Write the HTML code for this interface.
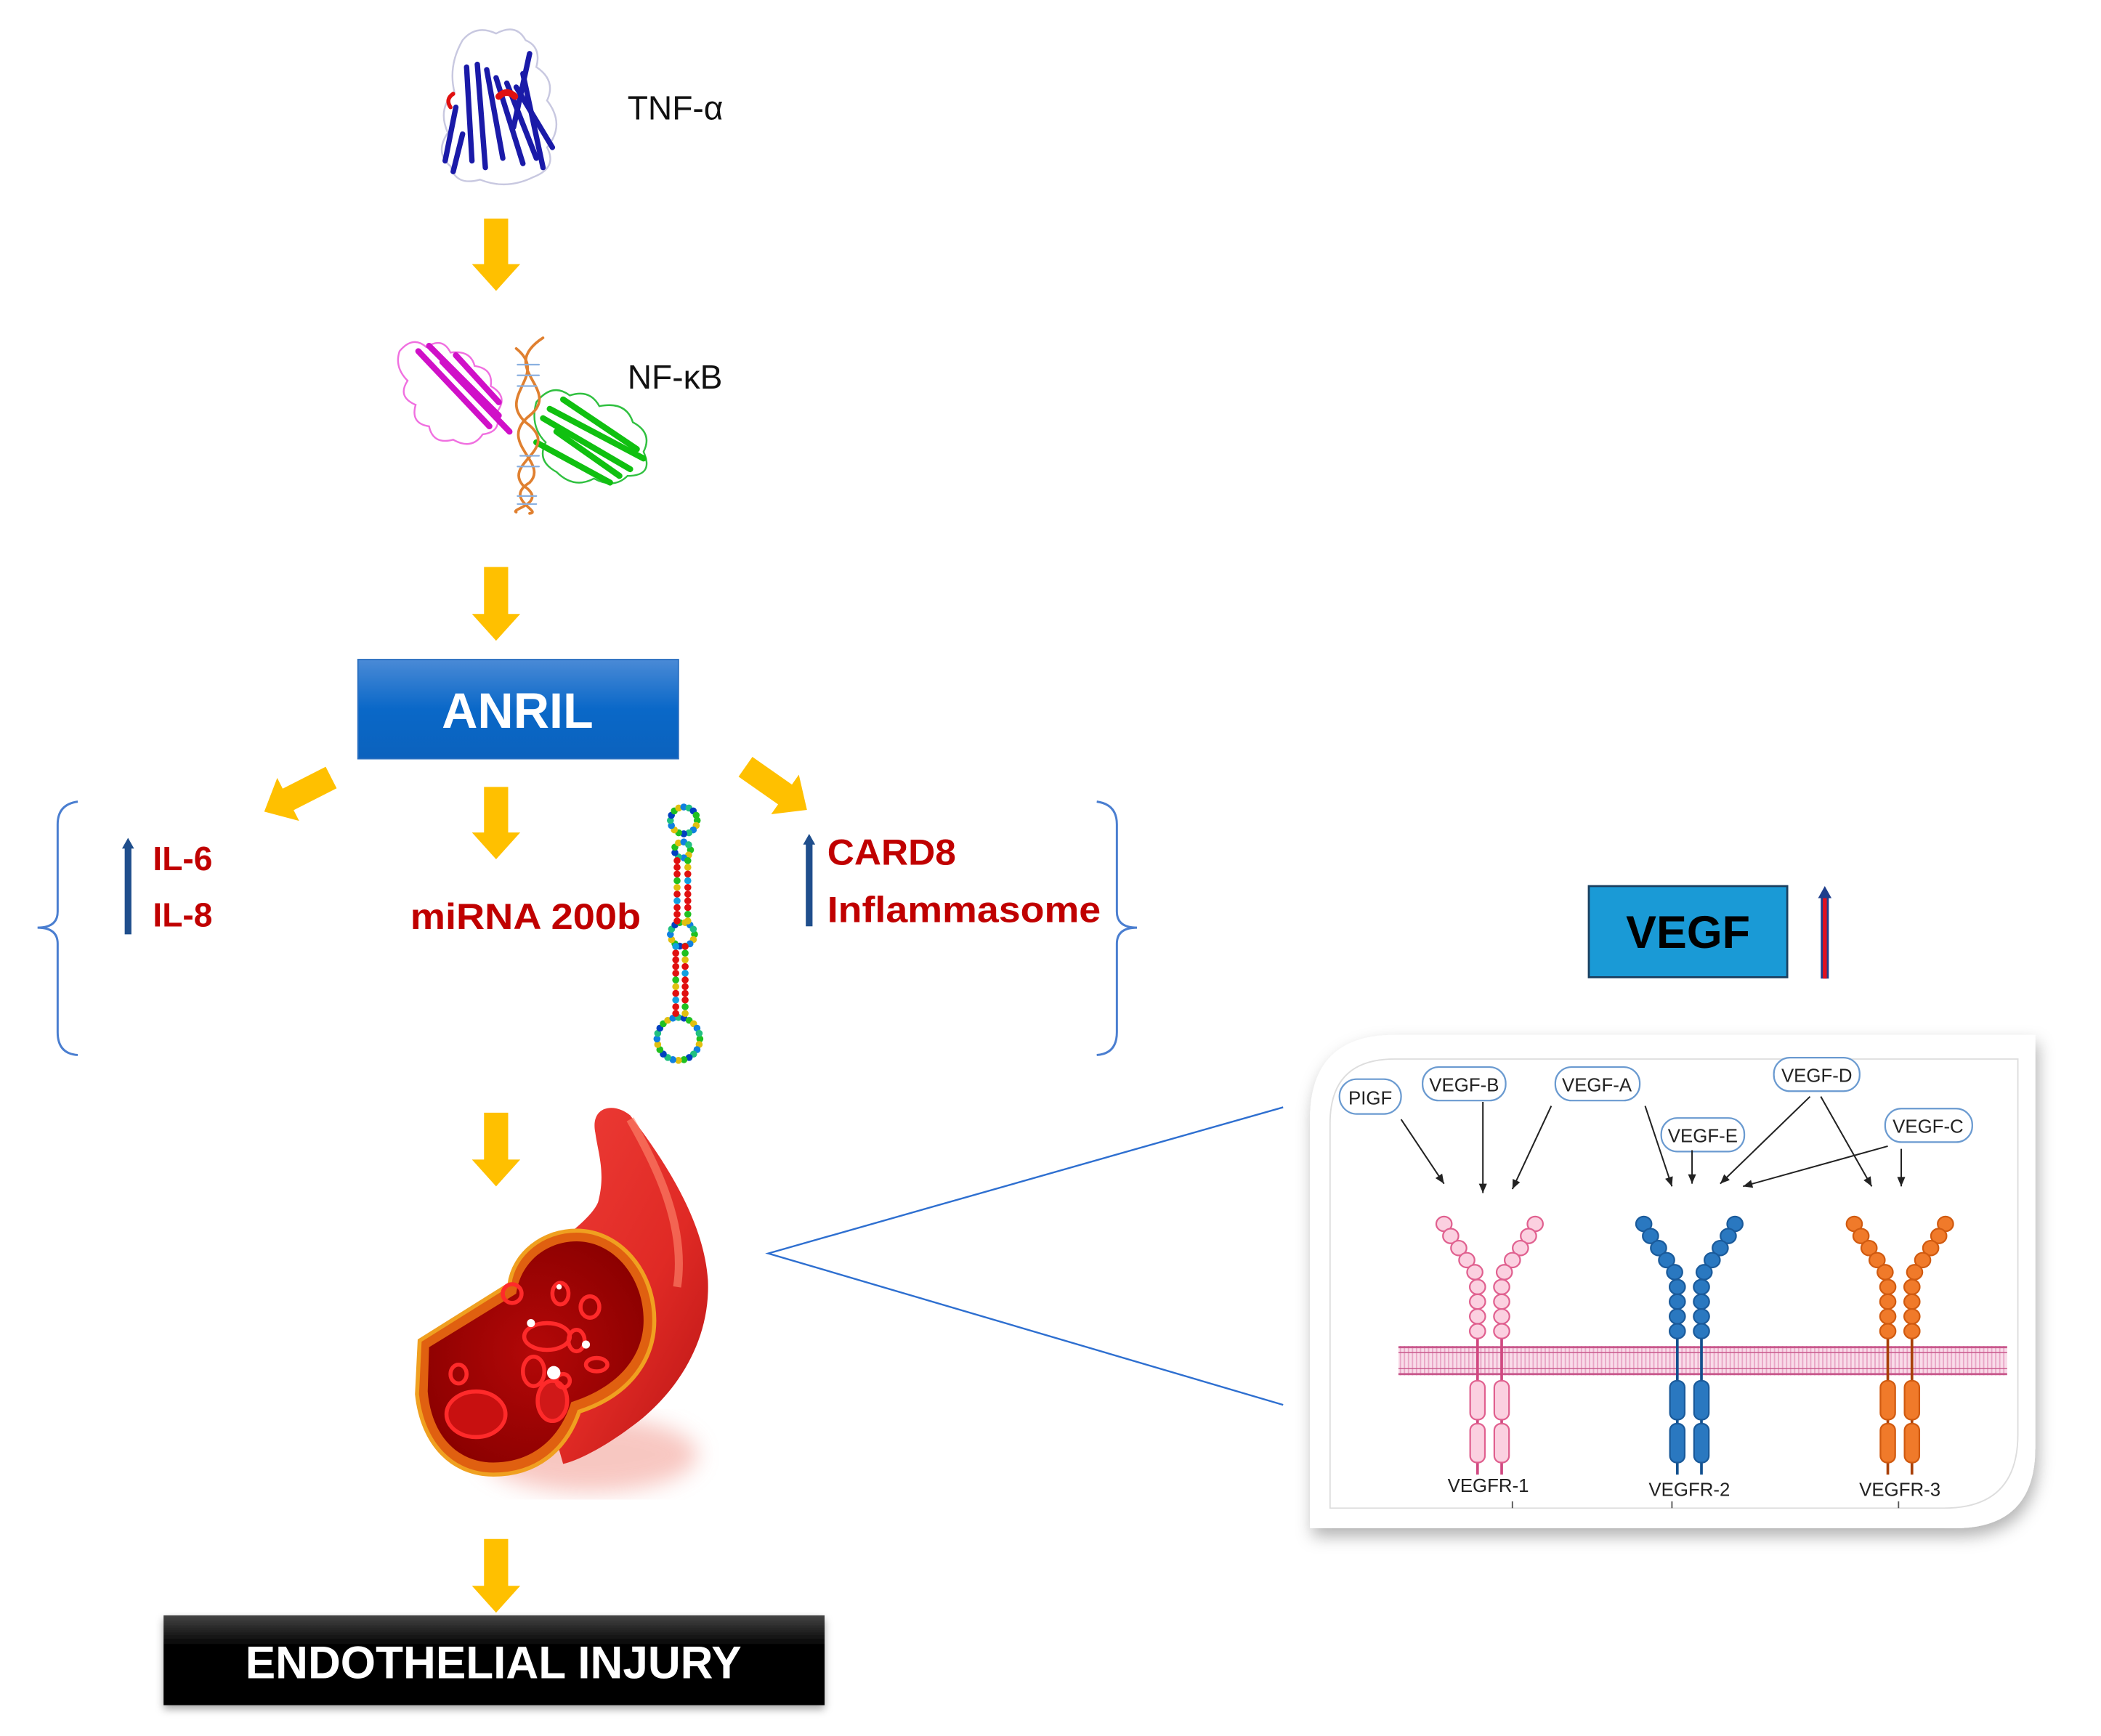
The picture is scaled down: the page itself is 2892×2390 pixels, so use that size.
<!DOCTYPE html>
<html><head><meta charset="utf-8"><style>
html,body{margin:0;padding:0;background:#fff}
svg{display:block}
</style></head><body>
<svg id="s" width="2892" height="2390" viewBox="0 0 1567 1295" xmlns="http://www.w3.org/2000/svg">
<defs>
<linearGradient id="anril" x1="0" y1="0" x2="0" y2="1"><stop offset="0" stop-color="#4a8ad6"/><stop offset="0.5" stop-color="#0a68c8"/><stop offset="1" stop-color="#0b62bd"/></linearGradient>
<linearGradient id="blk" x1="0" y1="0" x2="0" y2="1"><stop offset="0" stop-color="#444"/><stop offset="0.35" stop-color="#000"/><stop offset="1" stop-color="#000"/></linearGradient>
<linearGradient id="vess" x1="0" y1="0" x2="1" y2="1"><stop offset="0" stop-color="#f0403a"/><stop offset="0.6" stop-color="#e02a25"/><stop offset="1" stop-color="#b81414"/></linearGradient>
<radialGradient id="lum" cx="0.5" cy="0.5" r="0.6"><stop offset="0" stop-color="#b30808"/><stop offset="1" stop-color="#8a0000"/></radialGradient>
<filter id="sh" x="-10%" y="-10%" width="120%" height="130%"><feDropShadow dx="0" dy="3" stdDeviation="3" flood-color="#000" flood-opacity="0.35"/></filter>
<filter id="psh" x="-5%" y="-5%" width="112%" height="115%"><feDropShadow dx="2" dy="6" stdDeviation="6" flood-color="#000" flood-opacity="0.3"/></filter>
<filter id="blur"><feGaussianBlur stdDeviation="8"/></filter>
<pattern id="mem" width="3" height="24" patternUnits="userSpaceOnUse"><rect width="3" height="24" fill="#f9dce9"/><rect x="0" width="1" height="24" fill="#e9a6c6"/></pattern>
</defs>

<!-- TNF protein -->
<g fill="none" stroke-linecap="round">
<path d="M345 30 q10 -12 25 -5 q15 -8 22 5 q12 5 8 20 q15 10 8 25 q14 18 0 35 q8 15 -10 22 q-20 10 -40 2 q-18 5 -22 -10 q-12 -10 -2 -25 q-8 -18 5 -30 q-5 -20 6 -39z" stroke="#c8c8e0" stroke-width="1.3"/>
<g stroke="#1a1aa8" stroke-width="4">
<path d="M348 50 L352 120"/><path d="M356 48 L362 125"/><path d="M363 52 L375 118"/><path d="M370 58 L390 122"/><path d="M378 62 L400 118"/><path d="M385 65 L412 110"/><path d="M390 55 L405 125"/><path d="M395 40 L383 95"/><path d="M340 80 L332 120"/><path d="M345 100 L338 128"/>
</g>
<path d="M372 72 q6 -6 12 0" stroke="#e01010" stroke-width="5"/>
<path d="M338 70 q-6 4 -2 10" stroke="#e01010" stroke-width="3"/>
</g>
<text x="468" y="89" font-family="Liberation Sans, sans-serif" font-size="25" fill="#111">TNF-α</text>

<!-- NF-kB -->
<g fill="none" stroke-linecap="round">
<path d="M298 262 q10 -12 20 -3 q12 -8 18 4 q15 -2 18 10 q14 2 12 15 q14 8 4 20 q5 14 -10 16 q-8 12 -22 4 q-15 4 -18 -10 q-14 -2 -10 -16 q-14 -6 -6 -18 q-10 -10 -6 -22z" stroke="#f070e0" stroke-width="1.3"/>
<g stroke="#d010c8" stroke-width="4.5"><path d="M312 262 L365 318"/><path d="M320 258 L372 310"/><path d="M330 270 L380 322"/><path d="M340 265 L372 300"/></g>
<path d="M400 300 q12 -15 25 -5 q15 -5 22 8 q20 -4 25 12 q15 8 8 22 q8 18 -12 18 q-10 10 -25 2 q-15 8 -28 -5 q-15 -8 -8 -22 q-12 -12 -7 -30z" stroke="#30c040" stroke-width="1.3"/>
<g stroke="#10c010" stroke-width="4.5"><path d="M405 312 L470 350"/><path d="M410 305 L480 342"/><path d="M415 322 L462 355"/><path d="M400 330 L455 360"/><path d="M420 298 L475 335"/></g>
<path d="M405 252 C370 275 420 290 395 310 C370 330 410 345 395 360 C375 372 405 382 395 383" stroke="#e08030" stroke-width="2"/>
<path d="M385 260 C410 280 370 295 392 315 C420 335 375 345 390 362 C410 375 380 380 385 382" stroke="#e08030" stroke-width="2"/>
<g stroke="#8ab0e0" stroke-width="1.2"><path d="M386 272 h16"/><path d="M386 280 h16"/><path d="M386 288 h14"/><path d="M388 340 h14"/><path d="M386 348 h16"/><path d="M386 370 h14"/><path d="M386 376 h14"/></g>
</g>
<text x="468" y="290" font-family="Liberation Sans, sans-serif" font-size="25" fill="#111">NF-κB</text>

<!-- yellow arrows -->
<g fill="#ffc000">
<polygon points="361,163 379,163 379,197 388,197 370,217 352,197 361,197"/>
<polygon points="361,423 379,423 379,458 388,458 370,478 352,458 361,458"/>
<polygon points="361,587 379,587 379,621 388,621 370,641 352,621 361,621"/>
<polygon points="361,830 379,830 379,865 388,865 370,885 352,865 361,865"/>
<polygon points="361,1148 379,1148 379,1183 388,1183 370,1203 352,1183 361,1183"/>
<g transform="translate(247,580) rotate(63)"><polygon points="-9,0 9,0 9,36 18,36 0,56 -18,36 -9,36"/></g>
<g transform="translate(556,572) rotate(-55)"><polygon points="-9,0 9,0 9,36 18,36 0,56 -18,36 -9,36"/></g>
</g>

<!-- ANRIL box -->
<rect x="267" y="492" width="239" height="74" fill="url(#anril)" stroke="#2a6fc0" stroke-width="1"/>
<text x="386" y="543" text-anchor="middle" font-family="Liberation Sans, sans-serif" font-weight="bold" font-size="37" fill="#fff">ANRIL</text>

<!-- braces -->
<path d="M58 598 Q43 600 43 615 L43 680 Q43 692 28 692 Q43 692 43 704 L43 770 Q43 786 58 787" fill="none" stroke="#4a7ed0" stroke-width="1.6"/>
<path d="M818 598 Q833 600 833 615 L833 680 Q833 692 848 692 Q833 692 833 704 L833 770 Q833 786 818 787" fill="none" stroke="#4a7ed0" stroke-width="1.6"/>

<!-- IL-6 / IL-8 -->
<rect x="93" y="630" width="5" height="67" fill="#1f4e8c"/><polygon points="91,633 95.5,625 100,633" fill="#1f4e8c"/>
<text x="114" y="649" font-family="Liberation Sans, sans-serif" font-weight="bold" font-size="25" fill="#c00000">IL-6</text>
<text x="114" y="691" font-family="Liberation Sans, sans-serif" font-weight="bold" font-size="25" fill="#c00000">IL-8</text>
<text x="306" y="693" font-family="Liberation Sans, sans-serif" font-weight="bold" font-size="27" fill="#c00000" textLength="172" lengthAdjust="spacingAndGlyphs">miRNA 200b</text>
<rect x="601" y="628" width="5" height="63" fill="#1f4e8c"/><polygon points="599,630 603.5,622 608,630" fill="#1f4e8c"/>
<text x="617" y="645" font-family="Liberation Sans, sans-serif" font-weight="bold" font-size="27" fill="#c00000" textLength="96" lengthAdjust="spacingAndGlyphs">CARD8</text>
<text x="617" y="688" font-family="Liberation Sans, sans-serif" font-weight="bold" font-size="27" fill="#c00000" textLength="204" lengthAdjust="spacingAndGlyphs">Inflammasome</text>

<!-- hairpin -->
<g id="hp"></g>

<!-- vessel -->
<ellipse cx="440" cy="1085" rx="80" ry="28" fill="#f5b0a8" filter="url(#blur)" opacity="0.7"/>
<path d="M444 845 C440 825 458 822 470 832 C495 865 525 910 528 955 C530 1000 505 1040 470 1065 C450 1080 430 1090 420 1092 L382 958 C400 935 438 915 446 897 C452 875 446 860 444 845Z" fill="url(#vess)"/>
<path d="M470 835 C490 870 512 915 505 960" fill="none" stroke="#ff8a70" stroke-width="6" opacity="0.6"/>
<path d="M313 1000 L380 958 C383 935 405 918 430 918 C462 918 488 948 488 985 C488 1012 472 1040 432 1053 C422 1082 400 1100 368 1100 C338 1100 315 1078 311 1040 Z" fill="#e06010" stroke="#f0a020" stroke-width="3"/>
<path d="M320 1005 L385 965 C388 942 407 926 430 926 C458 926 480 953 480 985 C480 1008 466 1033 426 1046 C418 1072 398 1091 368 1091 C342 1091 322 1072 319 1038 Z" fill="url(#lum)"/>
<g fill="none" stroke="#ff2a2a" stroke-width="3">
<ellipse cx="355" cy="1055" rx="22" ry="17" fill="#c81010"/>
<ellipse cx="412" cy="1045" rx="11" ry="15" fill="#d01818"/>
<ellipse cx="408" cy="997" rx="17" ry="10"/>
<ellipse cx="398" cy="1023" rx="8" ry="11"/>
<ellipse cx="382" cy="965" rx="7" ry="7"/>
<ellipse cx="418" cy="965" rx="6" ry="8"/>
<ellipse cx="440" cy="975" rx="7" ry="8"/>
<ellipse cx="430" cy="1000" rx="6" ry="8"/>
<ellipse cx="420" cy="1030" rx="5" ry="5"/>
<ellipse cx="445" cy="1018" rx="8" ry="5"/>
<ellipse cx="342" cy="1025" rx="6" ry="7"/>
</g>
<g fill="#fff"><circle cx="413" cy="1024" r="5"/><circle cx="396" cy="987" r="3"/><circle cx="437" cy="1003" r="3"/><circle cx="417" cy="960" r="2"/></g>

<!-- endothelial -->
<rect x="122" y="1205" width="493" height="67" fill="url(#blk)" filter="url(#sh)"/>
<text x="368" y="1252" text-anchor="middle" font-family="Liberation Sans, sans-serif" font-weight="bold" font-size="34" fill="#fff" textLength="370" lengthAdjust="spacingAndGlyphs">ENDOTHELIAL INJURY</text>

<!-- zoom lines -->
<path d="M957 826 L573 935 L957 1048" fill="none" stroke="#2e6fd0" stroke-width="1.3"/>

<!-- VEGF -->
<rect x="1185" y="661" width="148" height="68" fill="#1a9ad6" stroke="#1a4060" stroke-width="1.5"/>
<text x="1259" y="707" text-anchor="middle" font-family="Liberation Sans, sans-serif" font-weight="bold" font-size="34" fill="#000">VEGF</text>
<rect x="1358" y="667" width="6" height="63" fill="#1f3e8c"/><rect x="1359.5" y="667" width="3" height="63" fill="#e01020"/><polygon points="1356,670 1361,661 1366,670" fill="#1f3e8c"/>

<!-- panel -->
<path d="M1040 772 L1518 772 L1518 1080 Q1518 1140 1458 1140 L977 1140 L977 835 Q977 772 1040 772Z" fill="#fff" filter="url(#psh)"/>
<path d="M1040 790 L1505 790 L1505 1070 Q1505 1125 1450 1125 L992 1125 L992 838 Q992 790 1040 790Z" fill="none" stroke="#ddd" stroke-width="1"/>
<rect x="1043" y="1004" width="454" height="22" fill="url(#mem)"/>
<g stroke="#c8588c" stroke-width="1.5"><path d="M1043 1005h454"/><path d="M1043 1025h454"/><path d="M1043 1009h454" stroke-width="0.8"/><path d="M1043 1021h454" stroke-width="0.8"/></g>
<g id="rec"></g>
<g font-family="Liberation Sans, sans-serif" font-size="14" fill="#222" text-anchor="middle">
<g fill="#fff" stroke="#6a9ad0" stroke-width="1.2">
<rect x="999" y="805" width="46" height="26" rx="13"/>
<rect x="1061" y="796" width="62" height="25" rx="12"/>
<rect x="1160" y="796" width="63" height="25" rx="12"/>
<rect x="1239" y="834" width="62" height="25" rx="12"/>
<rect x="1323" y="789" width="64" height="25" rx="12"/>
<rect x="1406" y="827" width="65" height="25" rx="12"/>
</g>
<text x="1022" y="824">PIGF</text>
<text x="1092" y="814">VEGF-B</text>
<text x="1191" y="814">VEGF-A</text>
<text x="1270" y="852">VEGF-E</text>
<text x="1355" y="807">VEGF-D</text>
<text x="1438" y="845">VEGF-C</text>
<text x="1110" y="1113">VEGFR-1</text>
<text x="1260" y="1116">VEGFR-2</text>
<text x="1417" y="1116">VEGFR-3</text>
</g>
<g stroke="#222" stroke-width="1.1" fill="#222" id="arr"></g>
<g stroke="#555" stroke-width="1"><path d="M1128 1120v5"/><path d="M1247 1120v5"/><path d="M1416 1120v5"/></g>
</svg>
<script>
var NS="http://www.w3.org/2000/svg";
function el(p,t,a){var e=document.createElementNS(NS,t);for(var k in a)e.setAttribute(k,a[k]);p.appendChild(e);return e;}
var A=[[1045,835,1077,883],[1106,822,1106,890],[1157,825,1128,887],[1227,825,1247,885],[1262,858,1262,883],[1350,818,1283,883],[1358,818,1396,885],[1408,855,1300,885],[1418,857,1418,885]];
var g=document.getElementById('arr');
A.forEach(function(a){el(g,'line',{x1:a[0],y1:a[1],x2:a[2],y2:a[3]});var dx=a[2]-a[0],dy=a[3]-a[1],L=Math.hypot(dx,dy),ux=dx/L,uy=dy/L;var bx=a[2]-ux*7,by=a[3]-uy*7;el(g,'polygon',{points:a[2]+','+a[3]+' '+(bx-uy*3)+','+(by+ux*3)+' '+(bx+uy*3)+','+(by-ux*3),stroke:'none'});});
var r=document.getElementById('rec');
function recep(cx,fill,stroke,lineC){
 [-1,1].forEach(function(s){
  var sx=cx+s*9;
  el(r,'line',{x1:sx,y1:995,x2:sx,y2:1100,stroke:lineC,'stroke-width':2});
  var arm=[[sx+s*25,913],[sx+s*20,922],[sx+s*14,931],[sx+s*8,940],[sx+s*2,949],[sx,960],[sx,971],[sx,982],[sx,993]];
  arm.forEach(function(p){el(r,'ellipse',{cx:p[0],cy:p[1],rx:5.8,ry:5.5,fill:fill,stroke:stroke,'stroke-width':1.2});});
  el(r,'rect',{x:sx-5.5,y:1030,width:11,height:29,rx:5,fill:fill,stroke:stroke,'stroke-width':1.2});
  el(r,'rect',{x:sx-5.5,y:1062,width:11,height:29,rx:5,fill:fill,stroke:stroke,'stroke-width':1.2});
 });
}
recep(1111,'#fbd0e0','#e0608f','#d04880');
recep(1260,'#2a78c0','#1a5a9a','#12508e');
recep(1417,'#f07a2a','#d05a10','#a84008');
var h=document.getElementById('hp');
var cols=['#e01010','#e01010','#e01010','#20c020','#e0c010','#e01010','#10a0e0','#e01010'];
function dot(x,y,c){el(h,'circle',{cx:x,cy:y,r:2.6,fill:c});}
function loop(cx,cy,R,n){for(var i=0;i<n;i++){var t=i/n*2*Math.PI;var c=['#20c020','#e0c010','#1080e0','#20c080','#0040c0'][i%5];dot(cx+R*Math.cos(t),cy+R*Math.sin(t),c);}}
loop(510,612,10,16);loop(509,634,6,9);loop(509,697,9,14);loop(506,775,16,24);
for(var y=642;y<688;y+=5){dot(505,y,cols[(y/5|0)%8]);dot(513,y,cols[(y/5+3|0)%8]);}
for(var y=706;y<760;y+=5){dot(504,y,cols[(y/5+1|0)%8]);dot(511,y,cols[(y/5+5|0)%8]);}
</script>
</body></html>
